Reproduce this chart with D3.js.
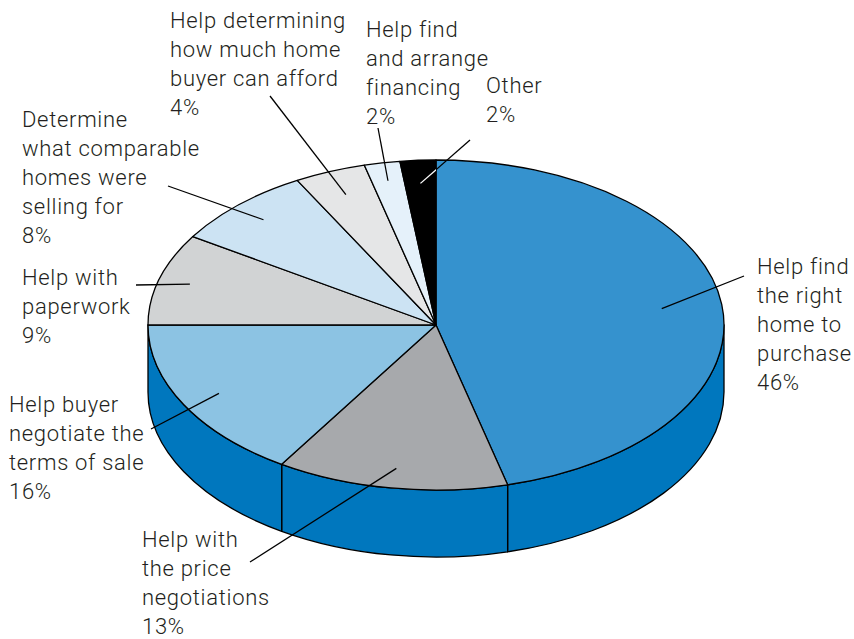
<!DOCTYPE html>
<html>
<head>
<meta charset="utf-8">
<script src="https://cdn.jsdelivr.net/npm/d3@7/dist/d3.min.js"></script>
<style>
  html, body { margin: 0; padding: 0; background: #fff; }
  svg { display: block; }
  text { font-family: Roboto, "Liberation Sans", Arial, sans-serif; font-weight: 300; }
</style>
</head>
<body>
<svg id="chart" width="854" height="639"></svg>
<script>
// What buyers want most from their real estate agent (share of responses)
const categories = [
  ["Help find", "the right", "home to", "purchase"],
  ["Help with", "the price", "negotiations"],
  ["Help buyer", "negotiate the", "terms of sale"],
  ["Help with", "paperwork"],
  ["Determine", "what comparable", "homes were", "selling for"],
  ["Help determining", "how much home", "buyer can afford"],
  ["Help find", "and arrange", "financing"],
  ["Other"]
];
const values = [46, 13, 16, 9, 8, 4, 2, 2];
const topColors = ["#3592ce", "#a7a9ac", "#8cc3e3", "#d1d3d4", "#cce3f3", "#e5e6e7", "#e5f1fa", "#000000"];
const sideColor = "#0077be";

// Label placement: text origin (left x, first baseline), outer end of leader, and
// how far into the slice (fraction of radius) the leader reaches.
const labelX      = [757, 142, 9, 22, 22, 170, 366, 486];
const labelY      = [274, 547, 412, 285, 127, 28, 37, 93];
const leaderOuter = [[744, 276], [250, 562], [151, 429], [136, 285], [168, 186], [270, 96], [378, 128], [470, 140]];
const leaderDepth = [0.79, 0.88, 0.86, 0.89, 0.875, 0.85, 0.89, 0.86];

const cx = 436, cy = 325, rx = 288, ry = 165, depth = 67;
const lineH = 29;

const svg = d3.select("#chart");

const pie = d3.pie().sort(null).value(d => d)
  .startAngle(0).endAngle(2 * Math.PI);
const arcs = pie(values);

// Project an angle (0 = 12 o'clock, clockwise) onto the tilted disc
const px = (a, r = 1) => cx + rx * r * Math.sin(a);
const py = (a, r = 1) => cy - ry * r * Math.cos(a);

function topPath(d) {
  const large = (d.endAngle - d.startAngle) > Math.PI ? 1 : 0;
  return `M${cx},${cy}L${px(d.startAngle)},${py(d.startAngle)}` +
         `A${rx},${ry} 0 ${large} 1 ${px(d.endAngle)},${py(d.endAngle)}Z`;
}

function wallPath(d) {
  const s = Math.max(d.startAngle, Math.PI / 2);
  const e = Math.min(d.endAngle, 3 * Math.PI / 2);
  if (e <= s) return null;
  const large = (e - s) > Math.PI ? 1 : 0;
  return `M${px(s)},${py(s)}A${rx},${ry} 0 ${large} 1 ${px(e)},${py(e)}` +
         `L${px(e)},${py(e) + depth}A${rx},${ry} 0 ${large} 0 ${px(s)},${py(s) + depth}Z`;
}

// Outer wall of the disc (front half only)
svg.append("g").selectAll("path")
  .data(arcs.filter(d => wallPath(d)))
  .join("path")
  .attr("d", wallPath)
  .attr("fill", sideColor)
  .attr("stroke", "#000")
  .attr("stroke-width", 1.3)
  .attr("stroke-linejoin", "round");

// Top faces
svg.append("g").selectAll("path")
  .data(arcs)
  .join("path")
  .attr("d", topPath)
  .attr("fill", (d, i) => topColors[i])
  .attr("stroke", "#000")
  .attr("stroke-width", 1.3)
  .attr("stroke-linejoin", "round");

// Leader lines
const inner = (d, i) => {
  const m = (d.startAngle + d.endAngle) / 2;
  return [px(m, leaderDepth[i]), py(m, leaderDepth[i])];
};

svg.append("g").selectAll("line")
  .data(arcs)
  .join("line")
  .attr("x1", (d, i) => leaderOuter[i][0])
  .attr("y1", (d, i) => leaderOuter[i][1])
  .attr("x2", (d, i) => inner(d, i)[0])
  .attr("y2", (d, i) => inner(d, i)[1])
  .attr("stroke", "#000")
  .attr("stroke-width", 1.3);

// Where a leader crosses the black slice, draw it in white
const last = arcs.length - 1;
svg.append("clipPath").attr("id", "darkSlice")
  .append("path").attr("d", topPath(arcs[last]));
svg.append("line")
  .attr("clip-path", "url(#darkSlice)")
  .attr("x1", leaderOuter[last][0]).attr("y1", leaderOuter[last][1])
  .attr("x2", inner(arcs[last], last)[0]).attr("y2", inner(arcs[last], last)[1])
  .attr("stroke", "#fff")
  .attr("stroke-width", 1.3);

// Labels
const labels = svg.append("g").selectAll("text")
  .data(arcs)
  .join("text")
  .attr("x", (d, i) => labelX[i])
  .attr("y", (d, i) => labelY[i])
  .attr("font-size", 22)
  .attr("letter-spacing", 0.7)
  .attr("fill", "#231f20");

labels.each(function(d, i) {
  const t = d3.select(this);
  const lines = categories[i].concat([`${values[i]}%`]);
  lines.forEach((ln, k) => {
    t.append("tspan")
      .attr("x", labelX[i])
      .attr("y", labelY[i] + k * lineH)
      .text(ln);
  });
});
</script>
</body>
</html>
